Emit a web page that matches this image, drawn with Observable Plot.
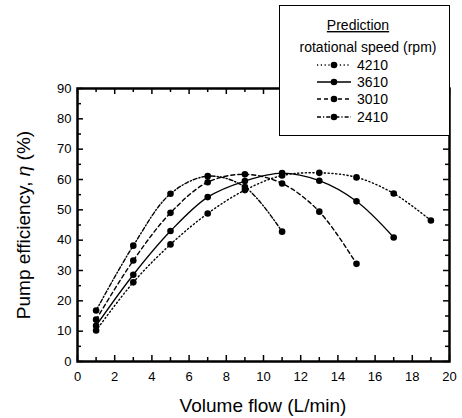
<!DOCTYPE html>
<html><head><meta charset="utf-8">
<script src="https://cdn.jsdelivr.net/npm/d3@7"></script>
<script src="https://cdn.jsdelivr.net/npm/@observablehq/plot@0.6"></script>
<style>
body{margin:0;background:#fff;font-family:"Liberation Sans",Arial,sans-serif;}
#wrap{position:relative;width:462px;height:418px;}
#legend{position:absolute;left:279px;top:5px;width:171px;height:131px;box-sizing:border-box;border:1.5px solid #000;background:#fff;}
#legend svg{position:absolute;left:-1.5px;top:-1.5px;}
</style></head><body><div id="wrap"><div id="chart"></div><div id="legend"></div></div>
<script>
// ---- data ----
const flow = [1, 3, 5, 7, 9, 11, 13, 15, 17, 19];
const speeds = ["4210", "3610", "3010", "2410"];
const eff4210 = [10.2, 26.1, 38.6, 48.8, 56.5, 61.3, 62.2, 60.7, 55.4, 46.5];
const eff3610 = [11.8, 28.6, 43.0, 54.2, 59.5, 62.1, 59.6, 52.8, 40.9];
const eff3010 = [13.8, 33.3, 49.0, 59.1, 61.7, 58.7, 49.4, 32.2];
const eff2410 = [16.8, 38.2, 55.3, 61.1, 57.5, 42.8];
const xTicks = [0, 2, 4, 6, 8, 10, 12, 14, 16, 18, 20];
const yTicks = [0, 10, 20, 30, 40, 50, 60, 70, 80, 90];
const legendTitle = "Prediction";
const legendSubtitle = "rotational speed (rpm)";
const xTitle = "Volume flow (L/min)";

// ---- styles ----
const dash = {"4210": "1.2,2.6", "3610": null, "3010": "4,3", "2410": "4,2,1.2,2"};
const series = [eff4210, eff3610, eff3010, eff2410];
const rows = [];
speeds.forEach((s, i) => series[i].forEach((v, j) => rows.push({speed: s, flow: flow[j], eff: v})));

const xMinor = d3.range(1, 20, 2);
const yMinor = d3.range(5, 90, 10);
const kx = 20 / (449 - 77), ky = 90 / (361 - 88);
const M = 6, m = 4;

const plot = Plot.plot({
  width: 462, height: 418,
  marginLeft: 77, marginRight: 13, marginTop: 88, marginBottom: 57,
  style: {fontFamily: "Liberation Sans, Arial, sans-serif", fontSize: "13px", color: "#000", background: "#fff", overflow: "visible"},
  x: {domain: [0, 20], ticks: xTicks, label: null, tickSize: 0, tickPadding: 10},
  y: {domain: [0, 90], ticks: yTicks, label: null, tickSize: 0, tickPadding: 6},
  marks: [
    ...speeds.map(s => Plot.line(rows.filter(r => r.speed === s), {
      x: "flow", y: "eff", curve: "catmull-rom", stroke: "#000",
      strokeWidth: s === "3610" ? 1.3 : 1.4, strokeDasharray: dash[s]
    })),
    Plot.dot(rows, {x: "flow", y: "eff", r: 3.3, fill: "#000", stroke: "none"}),
    // inward tick marks
    Plot.ruleX(xTicks, {x: d => d, y1: 0, y2: M * ky, stroke: "#000", strokeWidth: 1.5}),
    Plot.ruleX(xMinor, {x: d => d, y1: 0, y2: m * ky, stroke: "#000", strokeWidth: 1.5}),
    Plot.ruleX(xTicks, {x: d => d, y1: 90, y2: 90 - M * ky, stroke: "#000", strokeWidth: 1.5}),
    Plot.ruleX(xMinor, {x: d => d, y1: 90, y2: 90 - m * ky, stroke: "#000", strokeWidth: 1.5}),
    Plot.ruleY(yTicks, {y: d => d, x1: 0, x2: M * kx, stroke: "#000", strokeWidth: 1.5}),
    Plot.ruleY(yMinor, {y: d => d, x1: 0, x2: m * kx, stroke: "#000", strokeWidth: 1.5}),
    Plot.ruleY(yTicks, {y: d => d, x1: 20, x2: 20 - M * kx, stroke: "#000", strokeWidth: 1.5}),
    Plot.ruleY(yMinor, {y: d => d, x1: 20, x2: 20 - m * kx, stroke: "#000", strokeWidth: 1.5}),
    Plot.frame({stroke: "#000", strokeWidth: 2.5})
  ]
});
document.getElementById("chart").appendChild(plot);

// axis titles
const svg = d3.select(plot);
svg.append("text").attr("x", 263).attr("y", 412).attr("text-anchor", "middle")
  .style("font-size", "19px").style("font-family", "Liberation Sans, Arial, sans-serif").text(xTitle);
const yt = svg.append("text").attr("transform", "translate(30,225) rotate(-90)").attr("text-anchor", "middle")
  .style("font-size", "19px").style("font-family", "Liberation Sans, Arial, sans-serif");
yt.append("tspan").text("Pump efficiency, ");
yt.append("tspan").style("font-style", "italic").text("η");
yt.append("tspan").text(" (%)");

// legend
const lg = d3.select("#legend").append("svg").attr("width", 171).attr("height", 131)
  .style("font-family", "Liberation Sans, Arial, sans-serif").style("font-size", "14px");
lg.append("text").attr("x", 79).attr("y", 25).attr("text-anchor", "middle").style("text-decoration", "underline").text(legendTitle);
lg.append("text").attr("x", 89).attr("y", 47).attr("text-anchor", "middle").text(legendSubtitle);
const ey = [60, 77, 94, 112];
speeds.forEach((s, i) => {
  const g = lg.append("g").attr("transform", `translate(0,${ey[i]})`);
  g.append("line").attr("x1", 38).attr("x2", 72).attr("y1", 0).attr("y2", 0)
    .attr("stroke", "#000").attr("stroke-width", s === "3610" ? 1.6 : 1.4).attr("stroke-dasharray", dash[s]);
  g.append("circle").attr("cx", 55).attr("cy", 0).attr("r", 3.3).attr("fill", "#000");
  g.append("text").attr("x", 78).attr("y", 5).text(s);
});
</script></body></html>
